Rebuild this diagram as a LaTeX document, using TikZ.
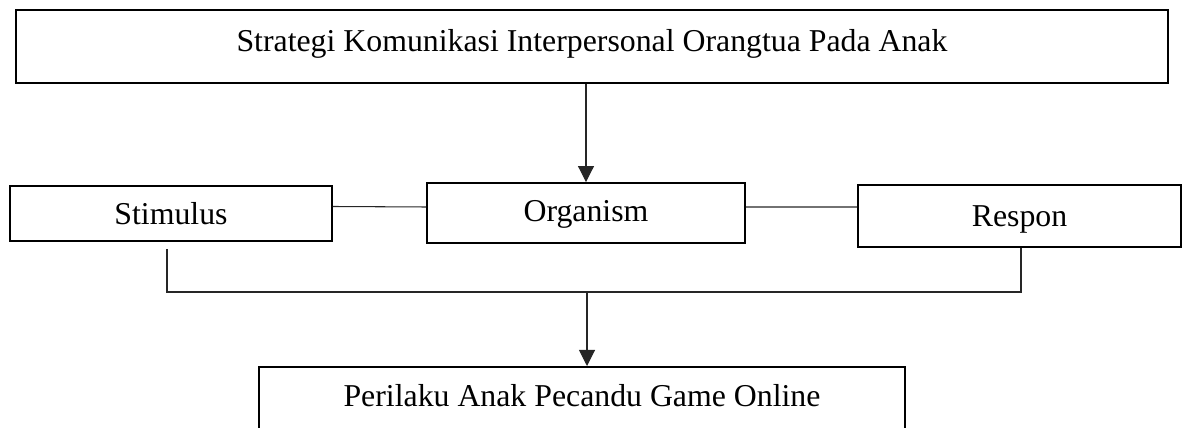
\documentclass[tikz,border=0pt]{standalone}
\usepackage{fontspec}
\setmainfont{Liberation Serif}
\usetikzlibrary{arrows.meta}
\tikzset{
  box/.style={draw=black, line width=1.1pt, fill=white, inner sep=0pt, text depth=0pt, font=\fontsize{18.1}{22}\selectfont},
  conn/.style={draw=black!85, line width=0.6pt},
  arr/.style={conn, -{Triangle[length=0.32cm, width=0.32cm]}}
}
\begin{document}
\begin{tikzpicture}[x=0.02cm, y=-0.02cm]
\useasboundingbox (0,0) rectangle (1187,428);
\clip (0,0) rectangle (1187,428);
\node[box, minimum width=23.04cm, minimum height=1.46cm, text height=0.22cm] (top) at (592,46.5) {Strategi Komunikasi Interpersonal Orangtua Pada Anak};
\node[box, minimum width=6.44cm, minimum height=1.1cm, text height=0.46cm] (stim) at (171,213.5) {Stimulus};
\node[box, minimum width=6.36cm, minimum height=1.2cm, text height=0.36cm] (org) at (586,213) {Organism};
\node[box, minimum width=6.46cm, minimum height=1.24cm, text height=0.44cm] (resp) at (1019.5,216) {Respon};
\node[box, minimum width=12.92cm, text height=0.8cm, text depth=0.85cm, anchor=north] (out) at (582,366) {Perilaku Anak Pecandu Game Online};
\coordinate (s1) at (167,249);
\coordinate (s2) at (167,292);
\coordinate (r2) at (1021,292);
\coordinate (j) at (587,292);
\draw[arr] (top.south -| org.north) -- (org.north);
\draw[conn] ([yshift=0.14cm]stim.east) -- ([yshift=0.12cm]org.west);
\draw[conn] ([yshift=0.12cm]org.east) -- ([yshift=0.18cm]resp.west);
\draw[conn] (s1) -- (s2) -- (r2) -- (r2 |- resp.south);
\draw[arr] (j) -- (j |- out.north);
\end{tikzpicture}
\end{document}
